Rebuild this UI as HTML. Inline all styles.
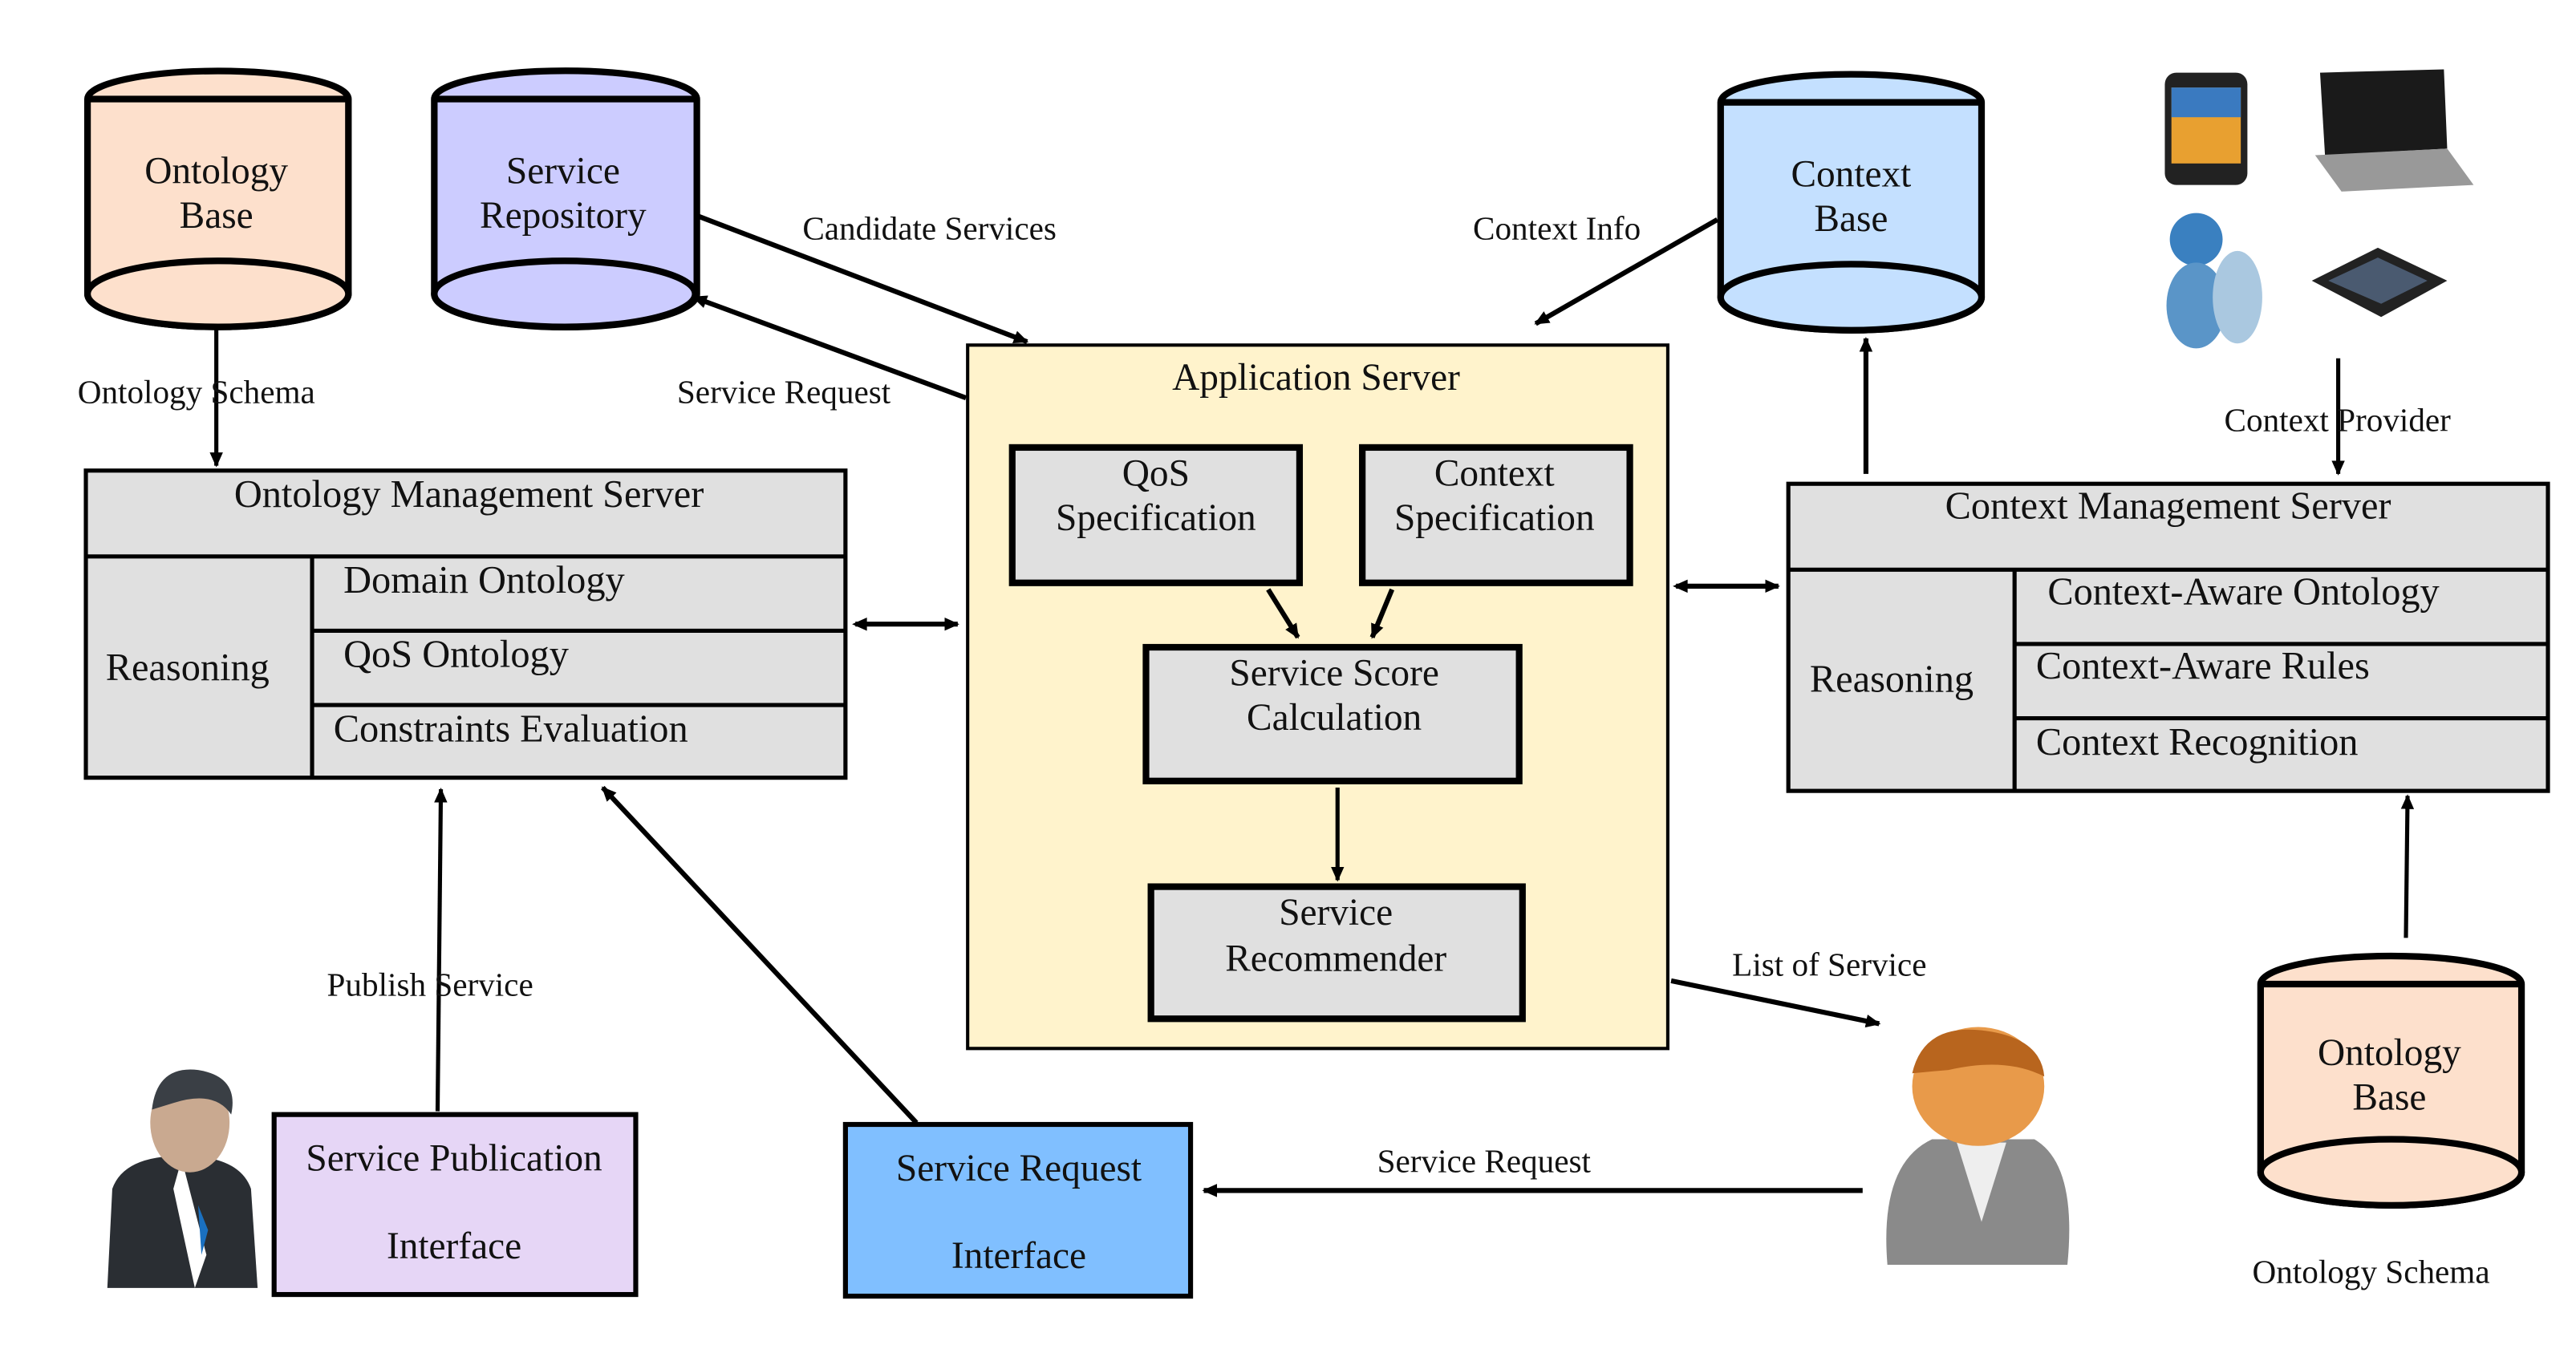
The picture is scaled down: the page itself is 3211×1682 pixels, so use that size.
<!DOCTYPE html>
<html><head><meta charset="utf-8"><style>html,body{margin:0;padding:0;background:#fff}svg{display:block}text{font-family:"Liberation Serif",serif;fill:#111}</style></head>
<body>
<svg width="3211" height="1682" viewBox="0 0 1560 817" preserveAspectRatio="none" xmlns="http://www.w3.org/2000/svg">
<defs>
<marker id="a" markerWidth="10" markerHeight="10" refX="8" refY="5" orient="auto" markerUnits="userSpaceOnUse"><path d="M0,1 L9,5 L0,9 z" fill="#000"/></marker>
<marker id="b" markerWidth="10" markerHeight="10" refX="2" refY="5" orient="auto" markerUnits="userSpaceOnUse"><path d="M9,1 L0,5 L9,9 z" fill="#000"/></marker>
</defs>
<g stroke="#000" stroke-width="4">
<path d="M53,60 A79,17 0 0 1 211,60 L211,178 A79,20 0 0 1 53,178 Z" fill="#fde0cc"/>
<ellipse cx="132" cy="178" rx="79" ry="20" fill="#fde0cc"/>
<line x1="53" y1="60" x2="211" y2="60"/>
<path d="M263,60 A79,17 0 0 1 422,60 L422,178 A79,20 0 0 1 263,178 Z" fill="#ccccff"/>
<ellipse cx="342" cy="178" rx="79" ry="20" fill="#ccccff"/>
<line x1="263" y1="60" x2="422" y2="60"/>
<path d="M1042,62 A79,17 0 0 1 1200,62 L1200,180 A79,20 0 0 1 1042,180 Z" fill="#c4e0ff"/>
<ellipse cx="1121" cy="180" rx="79" ry="20" fill="#c4e0ff"/>
<line x1="1042" y1="62" x2="1200" y2="62"/>
<path d="M1369,596 A79,17 0 0 1 1527,596 L1527,710 A79,20 0 0 1 1369,710 Z" fill="#fde0cc"/>
<ellipse cx="1448" cy="710" rx="79" ry="20" fill="#fde0cc"/>
<line x1="1369" y1="596" x2="1527" y2="596"/>
</g>
<g font-size="23" text-anchor="middle">
<text x="131" y="111">Ontology</text><text x="131" y="138">Base</text>
<text x="341" y="111">Service</text><text x="341" y="138">Repository</text>
<text x="1121" y="113">Context</text><text x="1121" y="140">Base</text>
<text x="1447" y="645">Ontology</text><text x="1447" y="672">Base</text>
</g>
<rect x="586" y="209" width="424" height="426" fill="#fff3cc" stroke="#000" stroke-width="2"/>
<text x="797" y="236" font-size="23" text-anchor="middle">Application Server</text>
<g fill="#e0e0e0" stroke="#000" stroke-width="4">
<rect x="613" y="271" width="174" height="82"/>
<rect x="825" y="271" width="162" height="82"/>
<rect x="694" y="392" width="226" height="81"/>
<rect x="697" y="537" width="225" height="80"/>
</g>
<g font-size="23" text-anchor="middle">
<text x="700" y="294">QoS</text><text x="700" y="321">Specification</text>
<text x="905" y="294">Context</text><text x="905" y="321">Specification</text>
<text x="808" y="415">Service Score</text><text x="808" y="442">Calculation</text>
<text x="809" y="560">Service</text><text x="809" y="588">Recommender</text>
</g>
<g fill="#e0e0e0" stroke="#000" stroke-width="2.5">
<rect x="52" y="285" width="460" height="186"/>
<line x1="52" y1="337" x2="512" y2="337"/>
<line x1="189" y1="337" x2="189" y2="471"/>
<line x1="189" y1="382" x2="512" y2="382"/>
<line x1="189" y1="427" x2="512" y2="427"/>
<rect x="1083" y="293" width="460" height="186"/>
<line x1="1083" y1="345" x2="1543" y2="345"/>
<line x1="1220" y1="345" x2="1220" y2="479"/>
<line x1="1220" y1="390" x2="1543" y2="390"/>
<line x1="1220" y1="435" x2="1543" y2="435"/>
</g>
<g font-size="23.5">
<text x="284" y="307" text-anchor="middle">Ontology Management Server</text>
<text x="208" y="359">Domain Ontology</text>
<text x="208" y="404">QoS Ontology</text>
<text x="202" y="449">Constraints Evaluation</text>
<text x="64" y="412">Reasoning</text>
<text x="1313" y="314" text-anchor="middle">Context Management Server</text>
<text x="1240" y="366">Context-Aware Ontology</text>
<text x="1233" y="411">Context-Aware Rules</text>
<text x="1233" y="457">Context Recognition</text>
<text x="1096" y="419">Reasoning</text>
</g>
<rect x="166" y="675" width="219" height="109" fill="#e6d6f6" stroke="#000" stroke-width="3"/>
<rect x="512" y="681" width="209" height="104" fill="#80bfff" stroke="#000" stroke-width="3"/>
<g font-size="23" text-anchor="middle">
<text x="275" y="709">Service Publication</text><text x="275" y="762">Interface</text>
<text x="617" y="715">Service Request</text><text x="617" y="768">Interface</text>
</g>
<g stroke="#000" fill="none">
<line x1="131" y1="198" x2="131" y2="282" stroke-width="2.5" marker-end="url(#a)"/>
<line x1="423" y1="131" x2="622" y2="207" stroke-width="3" marker-end="url(#a)"/>
<line x1="585" y1="241" x2="420" y2="180" stroke-width="3" marker-end="url(#a)"/>
<line x1="1040" y1="133" x2="930" y2="196" stroke-width="3" marker-end="url(#a)"/>
<line x1="1130" y1="287" x2="1130" y2="205" stroke-width="3" marker-end="url(#a)"/>
<line x1="1416" y1="217" x2="1416" y2="287" stroke-width="2.5" marker-end="url(#a)"/>
<line x1="518" y1="378" x2="580" y2="378" stroke-width="3" marker-start="url(#b)" marker-end="url(#a)"/>
<line x1="1015" y1="355" x2="1077" y2="355" stroke-width="3" marker-start="url(#b)" marker-end="url(#a)"/>
<line x1="768" y1="357" x2="786" y2="386" stroke-width="3" marker-end="url(#a)"/>
<line x1="843" y1="357" x2="831" y2="386" stroke-width="3" marker-end="url(#a)"/>
<line x1="810" y1="477" x2="810" y2="533" stroke-width="2.5" marker-end="url(#a)"/>
<line x1="265" y1="673" x2="267" y2="478" stroke-width="2.5" marker-end="url(#a)"/>
<line x1="555" y1="680" x2="365" y2="477" stroke-width="3" marker-end="url(#a)"/>
<line x1="1012" y1="594" x2="1138" y2="620" stroke-width="3" marker-end="url(#a)"/>
<line x1="1128" y1="721" x2="729" y2="721" stroke-width="3" marker-end="url(#a)"/>
<line x1="1457" y1="568" x2="1458" y2="482" stroke-width="2.5" marker-end="url(#a)"/>
</g>
<g font-size="20">
<text x="47" y="244">Ontology Schema</text>
<text x="486" y="145">Candidate Services</text>
<text x="410" y="244">Service Request</text>
<text x="892" y="145">Context Info</text>
<text x="1347" y="261">Context Provider</text>
<text x="198" y="603">Publish Service</text>
<text x="1049" y="591">List of Service</text>
<text x="834" y="710">Service Request</text>
<text x="1364" y="777">Ontology Schema</text>
</g>
<rect x="1311" y="44" width="50" height="68" rx="7" fill="#222"/>
<rect x="1315" y="53" width="42" height="46" fill="#e8a030"/>
<rect x="1315" y="53" width="42" height="18" fill="#3a7ac0"/>
<path d="M1405,44 L1480,42 L1482,90 L1408,94 Z" fill="#1a1a1a"/>
<path d="M1402,94 L1482,90 L1498,112 L1418,116 Z" fill="#999"/>
<circle cx="1330" cy="145" r="16" fill="#3a80c0"/>
<ellipse cx="1330" cy="185" rx="18" ry="26" fill="#5a95c8"/>
<ellipse cx="1355" cy="180" rx="15" ry="28" fill="#aac8e0"/>
<path d="M1400,170 L1440,150 L1482,170 L1442,192 Z" fill="#222"/>
<path d="M1410,170 L1440,156 L1470,170 L1442,184 Z" fill="#4a5a70"/>
<path d="M65,780 L68,720 Q75,700 110,700 Q145,700 152,720 L156,780 Z" fill="#2a2e33"/>
<path d="M110,702 L125,760 L118,780 L105,720 Z" fill="#fff"/>
<path d="M120,730 L126,745 L122,760 Z" fill="#1a70c0"/>
<ellipse cx="115" cy="680" rx="24" ry="30" fill="#c9a990"/>
<path d="M92,672 Q95,645 120,648 Q145,652 140,675 Q130,660 105,668 Z" fill="#3a3f45"/>
<path d="M1143,766 Q1138,705 1170,690 L1232,690 Q1258,705 1252,766 Z" fill="#8a8a8a"/>
<path d="M1185,692 L1200,740 L1215,692 Z" fill="#eee"/>
<ellipse cx="1198" cy="658" rx="40" ry="36" fill="#e89a4a"/>
<path d="M1158,650 Q1165,620 1200,624 Q1236,628 1238,652 Q1215,640 1180,648 Z" fill="#b8651e"/>
</svg>
</body></html>
